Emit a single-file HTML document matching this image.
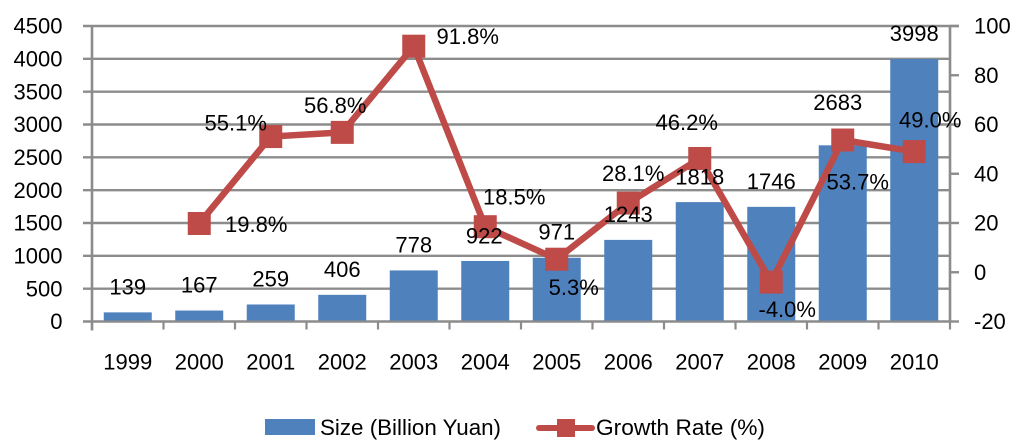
<!DOCTYPE html>
<html>
<head>
<meta charset="utf-8">
<style>
html,body{margin:0;padding:0;background:#fff;width:1024px;height:448px;overflow:hidden}
svg{display:block;filter:blur(0.35px)}
text{font-family:"Liberation Sans",sans-serif;font-size:22px;fill:#000}
</style>
</head>
<body>
<svg id="chart" width="1024" height="448" viewBox="0 0 1024 448" xmlns="http://www.w3.org/2000/svg"></svg>
<script>
const categories = ['1999','2000','2001','2002','2003','2004','2005','2006','2007','2008','2009','2010'];
const sizeValues = [139,167,259,406,778,922,971,1243,1818,1746,2683,3998];
const growthValues = [null,19.8,55.1,56.8,91.8,18.5,5.3,28.1,46.2,-4.0,53.7,49.0];
const leftTicks = [0,500,1000,1500,2000,2500,3000,3500,4000,4500];
const rightTicks = [-20,0,20,40,60,80,100];

const NS = 'http://www.w3.org/2000/svg';
const svg = document.getElementById('chart');
const plotL = 92, plotR = 950, plotT = 26, plotB = 321.5;
const GRID = '#8c8c8c', BAR = '#4f81bd', LINE = '#be4b48';

function xCenter(i){ return plotL + (plotR - plotL) * (i + 0.5) / categories.length; }
function xEdge(i){ return plotL + (plotR - plotL) * i / categories.length; }
function yLeft(v){ return plotB - (v - 0) / 4500 * (plotB - plotT); }
function yRight(v){ return plotB - (v + 20) / 120 * (plotB - plotT); }

function make(tag, attrs, parent){
  const el = document.createElementNS(NS, tag);
  for (const k in attrs) el.setAttribute(k, attrs[k]);
  (parent || svg).appendChild(el);
  return el;
}
function label(str, x, cy, anchor){
  const t = make('text', {x: x, y: cy + 7.7, 'text-anchor': anchor || 'middle'});
  t.textContent = str;
  return t;
}
function barNudge(i){
  if (i === 5) return [-1, -25];
  if (i === 6) return [0, -26];
  if (i === 10) return [-5, -43];
  return [0, -25.5];
}
function lineNudge(i){
  switch (i) {
    case 1: return [57, 1];
    case 2: return [-35, -14];
    case 3: return [-7, -27];
    case 4: return [54, -10];
    case 5: return [29, -30];
    case 6: return [17, 28];
    case 7: return [5, -30];
    case 8: return [-13, -36];
    case 9: return [16, 27];
    case 10: return [15, 42];
    default: return [16, -32];
  }
}

leftTicks.forEach(function(v){
  const g = make('line', {x1: plotL - 9, x2: plotR + (v === 4500 ? 9 : 0), y1: yLeft(v), y2: yLeft(v), stroke: GRID, 'stroke-width': 2.4});
  
  
  const t = label(String(v), 62.5, yLeft(v), 'end');
  
  
});

const leftAxis = make('line', {x1: plotL, x2: plotL, y1: plotT, y2: plotB + 9, stroke: GRID, 'stroke-width': 2.6});



const rightAxis = make('line', {x1: plotR, x2: plotR, y1: plotT, y2: plotB, stroke: GRID, 'stroke-width': 2.6});



rightTicks.forEach(function(v){
  const g = make('line', {x1: plotR, x2: plotR + 9, y1: yRight(v), y2: yRight(v), stroke: GRID, 'stroke-width': 2.4});
  
  
  const t = label(String(v), 974, yRight(v), 'start');
  
  
});

categories.forEach(function(c, i){
  const tk = make('line', {x1: xEdge(i + 1), x2: xEdge(i + 1), y1: plotB, y2: plotB + 8, stroke: GRID, 'stroke-width': 2.2});
  
  
  const t = label(c, xCenter(i), 362);
  
  
});

sizeValues.forEach(function(v, i){
  const b = make('rect', {x: xCenter(i) - 24, y: yLeft(v), width: 48, height: plotB - yLeft(v) - 1, fill: BAR});
  
  
});

const pts = [];
growthValues.forEach(function(v, i){
  if (v !== null) pts.push(xCenter(i) + ',' + yRight(v));
});
const poly = make('polyline', {points: pts.join(' '), fill: 'none', stroke: LINE, 'stroke-width': 6.5, 'stroke-linejoin': 'round'});



growthValues.forEach(function(v, i){
  if (v === null) return;
  const m = make('rect', {x: xCenter(i) - 11.5, y: yRight(v) - 11.5, width: 23, height: 23, fill: LINE});
  
  
});

sizeValues.forEach(function(v, i){
  const n = barNudge(i);
  const t = label(String(v), xCenter(i) + n[0], yLeft(v) + n[1]);
  
  
});

growthValues.forEach(function(v, i){
  if (v === null) return;
  const n = lineNudge(i);
  const t = label(v.toFixed(1) + '%', xCenter(i) + n[0], yRight(v) + n[1]);
  
  
});

const lgBar = make('rect', {x: 265, y: 419, width: 50, height: 16, fill: BAR});


const lgBarText = label('Size (Billion Yuan)', 320, 427.3, 'start');
lgBarText.setAttribute('textLength', '181');
lgBarText.setAttribute('lengthAdjust', 'spacingAndGlyphs');



const lgLine = make('line', {x1: 539, x2: 592, y1: 428, y2: 428, stroke: LINE, 'stroke-width': 6, 'stroke-linecap': 'round'});


const lgMark = make('rect', {x: 557, y: 419, width: 18, height: 18, fill: LINE});


const lgLineText = label('Growth Rate (%)', 596, 427.3, 'start');
lgLineText.setAttribute('textLength', '169');
lgLineText.setAttribute('lengthAdjust', 'spacingAndGlyphs');


</script>
</body>
</html>
